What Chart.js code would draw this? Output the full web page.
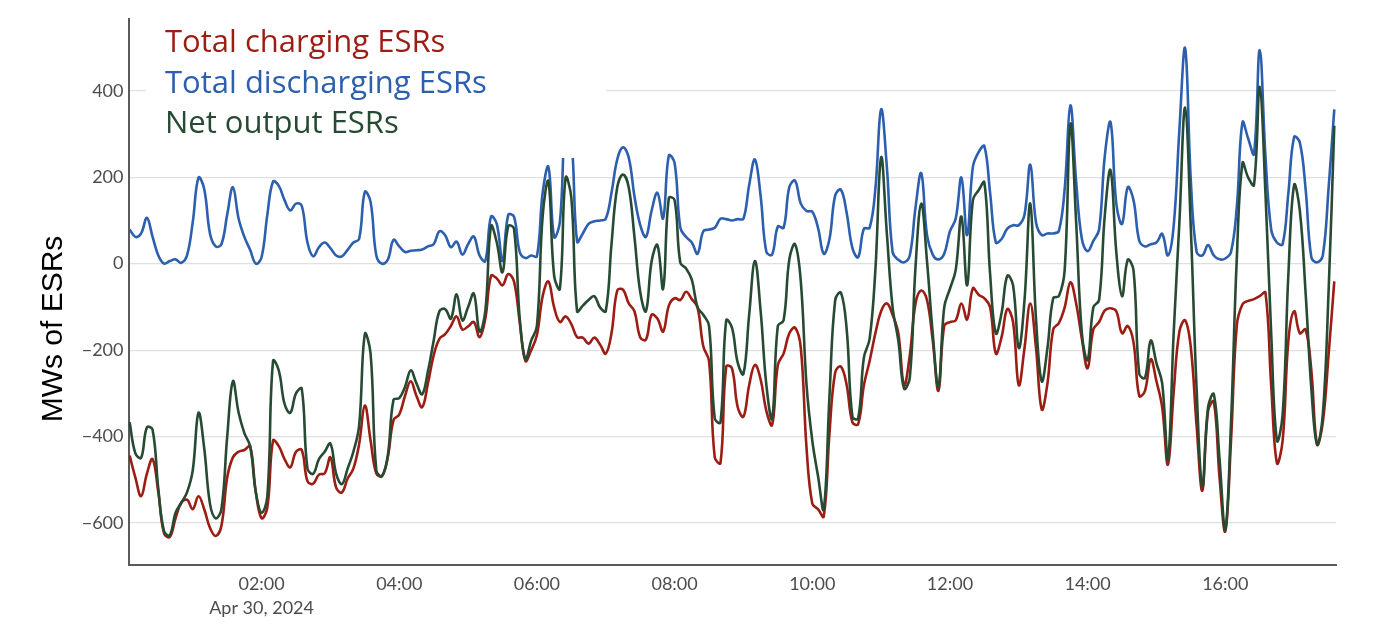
<!DOCTYPE html>
<html>
<head>
<meta charset="utf-8">
<script src="https://cdn.jsdelivr.net/npm/chart.js@4.4.0/dist/chart.umd.min.js"></script>
<style>
  html, body { margin: 0; padding: 0; background: #fff; }
  #wrap { width: 1376px; height: 634px; position: relative; }
</style>
</head>
<body>
<div id="wrap"><canvas id="esr_chart"></canvas></div>
<script>
// 5-minute readings on Apr 30, 2024, from 00:05 to 17:35 (minutes after midnight)
var startMinute = 5;
var stepMinutes = 5;

// Total discharging ESRs (MW)
var dischargingValues = [
    79, 62, 70, 106, 62, 19, 0, 6, 10, 2, 19, 96, 199, 173, 70, 40, 45, 113, 177, 104, 62, 32, 0, 15, 113, 190, 180, 147, 123, 139,
    134, 49, 17, 38, 49, 36, 19, 17, 32, 49, 57, 166, 143, 19, 0, 9, 55, 40, 27, 30, 31, 33, 40, 45, 75, 66, 38, 51, 21, 45,
    63, 19, 6, 109, 92, 6, 113, 109, 27, 13, 19, 17, 164, 224, 62, 96, 325, 290, 51, 70, 92, 98, 100, 104, 164, 241, 269, 246, 156, 90,
    62, 123, 164, 105, 250, 233, 83, 62, 49, 23, 75, 79, 83, 104, 103, 100, 103, 104, 182, 241, 156, 27, 21, 86, 83, 177, 192, 139, 122,
    120, 83, 23, 57, 158, 171, 117, 36, 15, 81, 83, 173, 357, 224, 27, 9, 3, 19, 130, 209, 66, 21, 10, 23, 75, 104, 199, 66, 224, 258,
    272, 164, 49, 57, 81, 89, 89, 113, 229, 96, 66, 70, 70, 76, 173, 366, 190, 57, 29, 53, 79, 250, 327, 139, 92, 177, 147, 53, 40, 45,
    49, 69, 19, 87, 310, 498, 190, 27, 19, 43, 19, 10, 12, 27, 130, 327, 289, 254, 494, 250, 79, 49, 45, 164, 293, 280, 173, 15, 3, 19, 173, 357
];

// Total charging ESRs (MW)
var chargingValues = [
    -444, -495, -538, -486, -452, -529, -624, -632, -589, -553, -546, -568, -538, -568, -611, -630, -606, -495, -448, -435, -431, -422, -529, -589, -564, -409, -422, -452, -471, -435,
    -431, -503, -509, -488, -485, -448, -518, -529, -497, -474, -418, -328, -409, -485, -491, -448, -362, -349, -306, -272, -306, -332, -277, -212, -174, -163, -144, -122, -152, -145,
    -135, -170, -127, -28, -34, -50, -24, -41, -135, -225, -200, -165, -75, -41, -101, -135, -122, -140, -170, -171, -185, -171, -187, -208, -161, -62, -60, -92, -110, -170,
    -176, -118, -127, -157, -97, -80, -84, -65, -82, -101, -191, -225, -448, -461, -238, -242, -332, -354, -281, -234, -268, -341, -373, -234, -208, -161, -148, -195, -426,
    -555, -568, -585, -392, -251, -238, -281, -367, -371, -281, -225, -161, -110, -92, -118, -161, -281, -212, -92, -62, -84, -178, -294, -144, -135, -131, -92, -129, -57, -72,
    -80, -101, -208, -170, -105, -135, -281, -195, -92, -195, -337, -277, -152, -137, -101, -43, -92, -174, -242, -152, -135, -108, -103, -110, -161, -144, -182, -306, -294, -221,
    -272, -332, -465, -298, -157, -131, -195, -375, -525, -341, -319, -495, -619, -409, -144, -94, -86, -82, -75, -67, -281, -461, -409, -178, -110, -161, -152, -247, -418, -367, -212, -41
];

// Net output ESRs (MW)
var netValues = [
    -367, -439, -449, -379, -384, -521, -619, -628, -576, -553, -529, -478, -345, -427, -555, -589, -568, -401, -272, -345, -392, -422, -529, -576, -538, -225, -247, -324, -345, -300,
    -289, -474, -486, -452, -435, -416, -486, -510, -474, -435, -375, -163, -208, -478, -491, -444, -315, -311, -285, -247, -277, -302, -249, -178, -110, -105, -127, -71, -131, -100,
    -69, -157, -110, 87, 49, -20, 87, 81, -127, -221, -178, -144, 110, 190, -28, -58, 199, 152, -110, -97, -84, -75, -101, -110, 45, 177, 206, 177, 62, -65,
    -110, 6, 43, -58, 152, 147, 2, -11, -37, -101, -118, -144, -358, -367, -131, -148, -229, -255, -118, 6, -110, -281, -358, -144, -131, 10, 45, -41, -281,
    -409, -491, -568, -306, -84, -67, -152, -354, -358, -217, -174, -15, 246, 70, -101, -178, -289, -264, -7, 139, 6, -161, -285, -101, -58, -15, 109, -50, 147, 170,
    188, -24, -161, -114, -28, -50, -195, -84, 139, -127, -272, -195, -80, -75, -15, 323, 96, -161, -223, -101, -84, 113, 216, 27, -75, 9, -15, -255, -264, -178,
    -230, -277, -452, -161, 96, 361, 79, -289, -516, -332, -302, -452, -615, -367, 10, 233, 199, 182, 409, 164, -161, -409, -349, -24, 182, 122, -67, -289, -418, -349, -67, 319
];

var seriesNames = ["Total charging ESRs", "Total discharging ESRs", "Net output ESRs"];
var seriesColors = ["#9b1d14", "#2c5fae", "#274b32"];

var yTicks = [-600, -400, -200, 0, 200, 400];
var xTicks = [120, 240, 360, 480, 600, 720, 840, 960];
var dateLabel = "Apr 30, 2024";

var minutes = [];
for (var i = 0; i < netValues.length; i++) {
    minutes.push(startMinute + i * stepMinutes);
}

function toPoints(values) {
    return values.map(function(v, i) { return { x: minutes[i], y: v }; });
}

function clockLabel(m) {
    var h = Math.floor(m / 60), mm = m % 60;
    return (h < 10 ? "0" : "") + h + ":" + (mm < 10 ? "0" : "") + mm;
}

// legend box drawn over the plot, and the rotated axis title
var overlayPlugin = {
    id: 'overlay',
    afterDraw: function(chart) {
        var ctx = chart.ctx;
        ctx.save();
        ctx.fillStyle = "#ffffff";
        ctx.fillRect(146, 19, 460, 139);
        ctx.font = "31px 'Open Sans'";
        ctx.textAlign = "left";
        ctx.textBaseline = "alphabetic";
        var baselines = [52, 93, 133];
        for (var k = 0; k < seriesNames.length; k++) {
            ctx.fillStyle = seriesColors[k];
            ctx.fillText(seriesNames[k], 165, baselines[k]);
        }
        ctx.translate(62, 329);
        ctx.rotate(-Math.PI / 2);
        ctx.fillStyle = "#000";
        ctx.font = "30px 'Liberation Sans', Arial, sans-serif";
        ctx.textAlign = "center";
        ctx.fillText("MWs of ESRs", 0, 0);
        ctx.restore();
    }
};

Chart.defaults.font.family = "Lato";

var elChart = document.getElementById('esr_chart');
var objChart = new Chart(elChart, {
    type: 'line',
    data: {
        datasets: [
            { label: seriesNames[0], data: toPoints(chargingValues), borderColor: seriesColors[0], order: 3 },
            { label: seriesNames[1], data: toPoints(dischargingValues), borderColor: seriesColors[1], order: 2 },
            { label: seriesNames[2], data: toPoints(netValues), borderColor: seriesColors[2], order: 1 }
        ]
    },
    options: {
        responsive: true,
        maintainAspectRatio: false,
        animation: false,
        parsing: false,
        layout: { padding: { left: 0, right: 40, top: 19, bottom: 0 } },
        elements: {
            line: { borderWidth: 2.6, tension: 0.4, fill: false },
            point: { radius: 0 }
        },
        plugins: {
            legend: { display: false },
            tooltip: { enabled: false }
        },
        scales: {
            x: {
                type: 'linear',
                min: 4,
                max: 1056.5,
                afterBuildTicks: function(scale) {
                    scale.ticks = xTicks.map(function(v) { return { value: v }; });
                },
                afterFit: function(scale) { scale.height = 69; },
                grid: { display: false, drawTicks: false },
                border: { display: true, color: "#5a5a5a", width: 2 },
                ticks: {
                    color: "#4d4d4d",
                    font: { size: 18, lineHeight: 1.33 },
                    padding: 7,
                    maxRotation: 0,
                    autoSkip: false,
                    callback: function(value) {
                        if (value === 120) return [clockLabel(value), dateLabel];
                        return clockLabel(value);
                    }
                }
            },
            y: {
                min: -697,
                max: 566,
                afterBuildTicks: function(scale) {
                    scale.ticks = yTicks.map(function(v) { return { value: v }; });
                },
                afterFit: function(scale) { scale.width = 128.5; },
                grid: { color: "#e0e0e0", lineWidth: 1.2, drawTicks: false },
                border: { display: true, color: "#5a5a5a", width: 2 },
                ticks: {
                    color: "#4d4d4d",
                    font: { size: 18 },
                    padding: 5,
                    callback: function(value) {
                        return value < 0 ? "\u2212" + Math.abs(value) : String(value);
                    }
                }
            }
        }
    },
    plugins: [overlayPlugin]
});
</script>
</body>
</html>
